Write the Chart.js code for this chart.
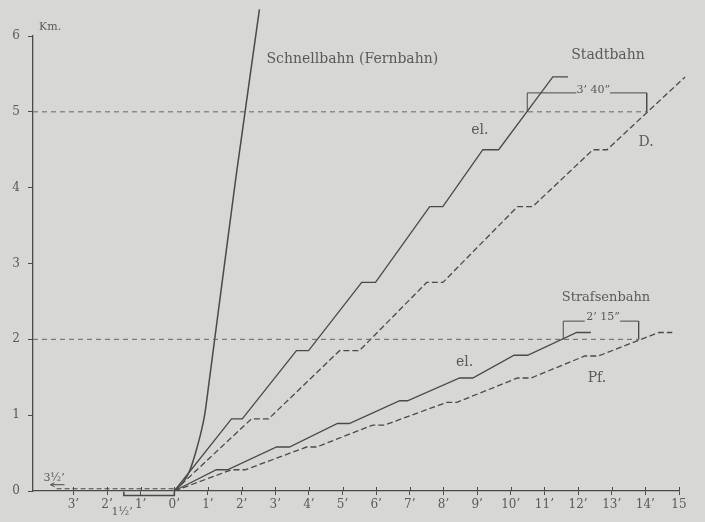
<!DOCTYPE html>
<html>
<head>
<meta charset="utf-8">
<script src="https://cdn.jsdelivr.net/npm/chart.js@4/dist/chart.umd.min.js"></script>
<style>
  html, body { margin: 0; padding: 0; background: #d7d7d5; }
  #wrap { width: 705px; height: 522px; }
</style>
</head>
<body>
<div id="wrap"><canvas id="chart" width="705" height="522"></canvas></div>
<script>
// Weg-Zeit-Linien: minutes (x) against kilometres (y)
const minuteTicks = [-3, -2, -1.5, -1, 0, 1, 2, 3, 4, 5, 6, 7, 8, 9, 10, 11, 12, 13, 14, 15];
const kmTicks = [0, 1, 2, 3, 4, 5, 6];

const schnellbahnMin = [0, 0.24, 0.45, 0.68, 0.9, 1.04, 1.82, 2.53];
const schnellbahnKm  = [0, 0.10, 0.26, 0.58, 1.0, 1.46, 4.10, 6.35];

const stadtElMin = [0, 1.70, 2.02, 3.63, 3.99, 5.57, 5.98, 7.59, 7.98, 9.17, 9.64, 11.25, 11.70];
const stadtElKm  = [0, 0.95, 0.95, 1.85, 1.85, 2.75, 2.75, 3.75, 3.75, 4.50, 4.50, 5.46, 5.46];
const stadtDMin  = [0, 2.29, 2.80, 4.91, 5.50, 7.50, 7.98, 10.20, 10.65, 12.44, 12.86, 15.18, 15.60];
const stadtDKm   = [0, 0.95, 0.95, 1.85, 1.85, 2.75, 2.75, 3.75, 3.75, 4.50, 4.50, 5.46, 5.46];

const strasseElMin = [0, 1.25, 1.58, 3.04, 3.42, 4.85, 5.20, 6.70, 6.93, 8.48, 8.87, 10.10, 10.50, 11.96, 12.38];
const strasseElKm  = [0, 0.28, 0.28, 0.58, 0.58, 0.89, 0.89, 1.19, 1.19, 1.49, 1.49, 1.79, 1.79, 2.09, 2.09];
const strassePfMin = [0, 1.70, 2.11, 3.93, 4.23, 5.90, 6.25, 8.10, 8.40, 10.20, 10.60, 12.20, 12.60, 14.40, 14.80];
const strassePfKm  = [0, 0.28, 0.28, 0.58, 0.58, 0.87, 0.87, 1.17, 1.17, 1.49, 1.49, 1.78, 1.78, 2.09, 2.09];

// access / waiting times left of 0'
const zugangMin = [-3.5, 0];
const zugangKm  = [0.03, 0.03];
const wartenMin = [-1.5, -1.5, 0, 0];
const wartenKm  = [-0.01, -0.06, -0.06, -0.01];

// dashed reference levels
const linie5Min = [-4.2, 14.04];
const linie5Km  = [5, 5];
const linie2Min = [-4.2, 13.8];
const linie2Km  = [2, 2];

// dimension brackets (gap where the text sits)
const mass340Min = [10.49, 10.49, 11.95, 12.45, 12.95, 14.04, 14.04];
const mass340Km  = [5.0, 5.25, 5.25, null, 5.25, 5.25, 5.0];
const mass215Min = [11.56, 11.56, 12.2, 12.6, 13.25, 13.8, 13.8];
const mass215Km  = [2.0, 2.24, 2.24, null, 2.24, 2.24, 2.0];

const INK = '#4a4a4a';
const TEXT = '#5a5a5a';
const FONT = '"DejaVu Serif", serif';

function pts(xs, ys) {
  return xs.map((x, i) => ({ x: x, y: ys[i] }));
}

function line(data, opts) {
  return Object.assign({
    data: data,
    borderColor: INK,
    borderWidth: 1.3,
    pointRadius: 0,
    tension: 0,
    fill: false,
    clip: false,
    spanGaps: false
  }, opts || {});
}

const labels = [
  { text: 'Schnellbahn (Fernbahn)', x: 2.74, y: 5.69, align: 'left', size: 14 },
  { text: 'Stadtbahn', x: 12.89, y: 5.75, align: 'center', size: 14 },
  { text: 'el.', x: 9.08, y: 4.76, align: 'center', size: 14 },
  { text: 'D.', x: 14.02, y: 4.60, align: 'center', size: 14 },
  { text: 'Strafsenbahn', x: 12.83, y: 2.55, align: 'center', size: 13 },
  { text: 'el.', x: 8.63, y: 1.70, align: 'center', size: 14 },
  { text: 'Pf.', x: 12.56, y: 1.48, align: 'center', size: 14 },
  { text: '3\u2019 40\u201d', x: 12.45, y: 5.29, align: 'center', size: 11 },
  { text: '2\u2019 15\u201d', x: 12.74, y: 2.29, align: 'center', size: 11 },
  { text: '3\u00bd\u2019', x: -3.57, y: 0.17, align: 'center', size: 11 }
];

const textPlugin = {
  id: 'texte',
  afterDatasetsDraw(chart) {
    const ctx = chart.ctx;
    const xs = chart.scales.x, ys = chart.scales.y;
    ctx.save();
    ctx.fillStyle = TEXT;
    ctx.textBaseline = 'middle';
    labels.forEach(l => {
      ctx.font = l.size + 'px ' + FONT;
      ctx.textAlign = l.align;
      ctx.fillText(l.text, xs.getPixelForValue(l.x), ys.getPixelForValue(l.y));
    });
    // 1 1/2' sits a little lower than the other minute labels
    ctx.font = '11px ' + FONT;
    ctx.textAlign = 'center';
    ctx.fillText('1\u00bd\u2019', xs.getPixelForValue(-1.55), ys.bottom + 21);
    // unit beside the top tick
    ctx.font = '11px ' + FONT;
    ctx.textAlign = 'left';
    ctx.fillText('Km.', xs.left + 6, ys.getPixelForValue(6) - 9);
    // small arrow under 3 1/2'
    const ax = xs.getPixelForValue(-3.5), ay = ys.getPixelForValue(0.03);
    ctx.strokeStyle = INK;
    ctx.lineWidth = 1;
    ctx.beginPath();
    ctx.moveTo(ax - 6, ay - 4); ctx.lineTo(ax + 8, ay - 4);
    ctx.moveTo(ax - 6, ay - 4); ctx.lineTo(ax - 2, ay - 6);
    ctx.moveTo(ax - 6, ay - 4); ctx.lineTo(ax - 2, ay - 2);
    ctx.stroke();
    // minute marks cross the axis line
    ctx.beginPath();
    minuteTicks.filter(v => v !== -1.5).forEach(v => {
      const px = Math.round(xs.getPixelForValue(v)) + 0.5;
      ctx.moveTo(px, ys.bottom - 4);
      ctx.lineTo(px, ys.bottom);
    });
    ctx.stroke();
    ctx.restore();
  }
};

new Chart(document.getElementById('chart'), {
  type: 'line',
  data: {
    datasets: [
      line(pts(linie5Min, linie5Km), { borderWidth: 1, borderColor: '#666', borderDash: [5, 4] }),
      line(pts(linie2Min, linie2Km), { borderWidth: 1, borderColor: '#666', borderDash: [5, 4] }),
      line(pts(schnellbahnMin, schnellbahnKm), { cubicInterpolationMode: 'monotone', borderWidth: 1.5 }),
      line(pts(stadtElMin, stadtElKm)),
      line(pts(stadtDMin, stadtDKm), { borderDash: [6, 3] }),
      line(pts(strasseElMin, strasseElKm)),
      line(pts(strassePfMin, strassePfKm), { borderDash: [6, 3] }),
      line(pts(zugangMin, zugangKm), { borderDash: [5, 3], borderWidth: 1.2 }),
      line(pts(wartenMin, wartenKm), { borderWidth: 1.6 }),
      line(pts(mass340Min, mass340Km), { borderWidth: 1 }),
      line(pts(mass215Min, mass215Km), { borderWidth: 1 })
    ]
  },
  options: {
    responsive: false,
    animation: false,
    layout: { padding: { top: 36, right: 26, left: 0, bottom: 0 } },
    plugins: {
      legend: { display: false },
      tooltip: { enabled: false }
    },
    scales: {
      x: {
        type: 'linear',
        min: -4.2,
        max: 15,
        afterBuildTicks: scale => { scale.ticks = minuteTicks.map(v => ({ value: v })); },
        afterFit: scale => { scale.height = 31; },
        border: { display: true, color: INK, width: 1.3 },
        grid: {
          drawOnChartArea: false,
          tickLength: 4,
          color: c => (c.tick && c.tick.value === -1.5) ? 'rgba(0,0,0,0)' : INK
        },
        ticks: {
          autoSkip: false,
          maxRotation: 0,
          padding: 3,
          color: TEXT,
          font: { family: FONT, size: 12 },
          callback: v => v === -1.5 ? '' : (v === 15 ? '15' : Math.abs(v) + '\u2019')
        }
      },
      y: {
        type: 'linear',
        min: 0,
        max: 6,
        afterBuildTicks: scale => { scale.ticks = kmTicks.map(v => ({ value: v })); },
        afterFit: scale => { scale.width = 33; },
        border: { display: true, color: INK, width: 1.3 },
        grid: { drawOnChartArea: false, tickLength: 5, color: INK },
        ticks: {
          padding: 8,
          color: TEXT,
          font: { family: FONT, size: 12 }
        }
      }
    }
  },
  plugins: [textPlugin]
});
</script>
</body>
</html>
